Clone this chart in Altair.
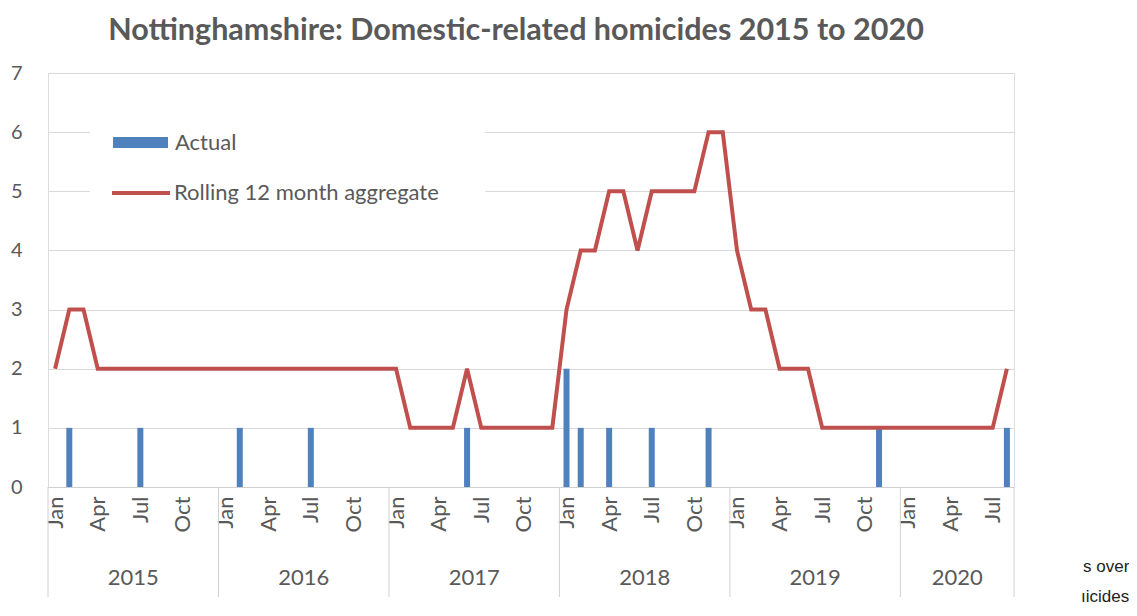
import altair as alt
import pandas as pd

# ---- data ----
years = ["2015", "2016", "2017", "2018", "2019", "2020"]
months_per_year = [12, 12, 12, 12, 12, 8]
tick_months = ["Jan", "Apr", "Jul", "Oct"]
series_names = ["Actual", "Rolling 12 month aggregate"]

actual = [
    0, 1, 0, 0, 0, 0, 1, 0, 0, 0, 0, 0,   # 2015
    0, 1, 0, 0, 0, 0, 1, 0, 0, 0, 0, 0,   # 2016
    0, 0, 0, 0, 0, 1, 0, 0, 0, 0, 0, 0,   # 2017
    2, 1, 0, 1, 0, 0, 1, 0, 0, 0, 1, 0,   # 2018
    0, 0, 0, 0, 0, 0, 0, 0, 0, 0, 1, 0,   # 2019
    0, 0, 0, 0, 0, 0, 0, 1,               # 2020
]
rolling = [
    2, 3, 3, 2, 2, 2, 2, 2, 2, 2, 2, 2,   # 2015
    2, 2, 2, 2, 2, 2, 2, 2, 2, 2, 2, 2,   # 2016
    2, 1, 1, 1, 1, 2, 1, 1, 1, 1, 1, 1,   # 2017
    3, 4, 4, 5, 5, 4, 5, 5, 5, 5, 6, 6,   # 2018
    4, 3, 3, 2, 2, 2, 1, 1, 1, 1, 1, 1,   # 2019
    1, 1, 1, 1, 1, 1, 1, 2,               # 2020
]

# ---- tables ----
n = len(actual)
df = pd.DataFrame({
    "pos": [i + 0.5 for i in range(n)],
    "actual": actual,
    "rolling": rolling,
    "s_bar": series_names[0],
    "s_line": series_names[1],
})
bars_df = df[df["actual"] > 0]

bounds = [0]
for m in months_per_year:
    bounds.append(bounds[-1] + m)
sep_df = pd.DataFrame({"b": bounds})
year_df = pd.DataFrame({
    "year": years,
    "mid": [(bounds[i] + bounds[i + 1]) / 2 for i in range(len(years))],
})

tick_vals = [i + 0.5 for i in range(0, n, 3)]
label_expr = "[" + ",".join("'%s'" % t for t in tick_months) + "][floor(datum.value/3)%4]"

W, H = 966, 414
GREY = "#595959"
FONT = "Lato"

xscale = alt.Scale(domain=[0, n], nice=False, zero=False, padding=0)
yscale = alt.Scale(domain=[0, 7], nice=False, padding=0)

base = alt.Chart(df)

bg = alt.Chart(alt.Data(values=[{"a": 1}])).mark_rect(color="white").encode(
    x=alt.value(42), x2=alt.value(437), y=alt.value(37), y2=alt.value(142)
)

bars = alt.Chart(bars_df).mark_bar(size=6).encode(
    x=alt.X("pos:Q", scale=xscale,
            axis=alt.Axis(values=tick_vals, labelExpr=label_expr, labelAngle=270,
                          labelFontSize=22, labelPadding=9, ticks=False, grid=False,
                          domainColor="#D0D0D0", title=None, labelColor=GREY, labelFont=FONT)),
    y=alt.Y("actual:Q", scale=yscale,
            axis=alt.Axis(values=list(range(8)), format="d", grid=True, gridColor="#D9D9D9",
                          domain=False, ticks=False, labelFontSize=20, labelPadding=26,
                          title=None, labelColor=GREY, labelFont=FONT)),
    fill=alt.Fill("s_bar:N", scale=alt.Scale(domain=[series_names[0]], range=["#4F81BD"]),
                  legend=alt.Legend(orient="none", legendX=65, legendY=42, title=None,
                                    symbolType="M-1,-0.2H1V0.2H-1Z", symbolSize=3025,
                                    labelFontSize=22, labelColor=GREY, labelFont=FONT,
                                    labelOffset=7, padding=0, symbolStrokeWidth=0,
                                    labelLimit=500)),
)

line = base.mark_line(strokeWidth=4).encode(
    x=alt.X("pos:Q", scale=xscale),
    y=alt.Y("rolling:Q", scale=yscale),
    stroke=alt.Stroke("s_line:N", scale=alt.Scale(domain=[series_names[1]], range=["#C0504D"]),
                      legend=alt.Legend(orient="none", legendX=62, legendY=89, title=None,
                                        symbolType="stroke", symbolSize=3364,
                                        symbolStrokeWidth=4, labelFontSize=22,
                                        labelColor=GREY, labelFont=FONT,
                                        labelOffset=2, padding=0, labelLimit=500)),
)

seps = alt.Chart(sep_df).mark_rule(color="#D0D0D0", strokeWidth=1).encode(
    x=alt.X("b:Q", scale=xscale), y=alt.value(H), y2=alt.value(524)
)

year_text = alt.Chart(year_df).mark_text(fontSize=22, color=GREY, font=FONT, baseline="middle").encode(
    x=alt.X("mid:Q", scale=xscale), y=alt.value(505), text="year:N"
)

side1 = alt.Chart(alt.Data(values=[{"t": "s over"}])).mark_text(
    fontSize=17, font="Liberation Sans", color="#222222", align="left", baseline="middle"
).encode(x=alt.value(1035), y=alt.value(494), text="t:N")
side2 = alt.Chart(alt.Data(values=[{"t": "ıicides"}])).mark_text(
    fontSize=17, font="Liberation Sans", color="#222222", align="left", baseline="middle"
).encode(x=alt.value(1033), y=alt.value(524), text="t:N")

chart = alt.layer(bg, bars, line, seps, year_text, side1, side2).properties(
    width=W, height=H,
    title=alt.TitleParams("Nottinghamshire: Domestic-related homicides 2015 to 2020",
                          fontSize=30.5, font=FONT, fontWeight="bold", color=GREY,
                          anchor="middle", offset=17, dx=-15),
    autosize=alt.AutoSizeParams(type="none"),
    padding={"left": 40, "top": 65, "right": 115, "bottom": 121},
).configure_view(stroke=None).configure(background="white")

chart.save("out.html", embed_options={"renderer": "svg", "actions": False})
